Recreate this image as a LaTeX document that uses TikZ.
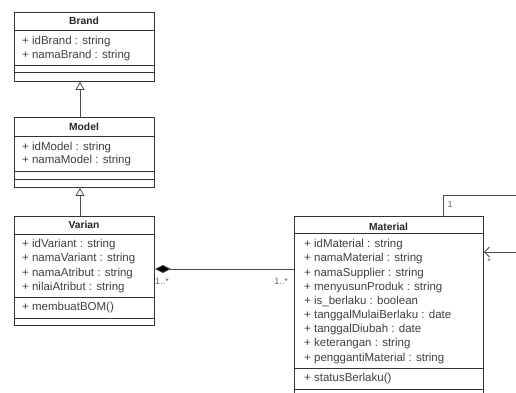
\documentclass[tikz,border=0pt]{standalone}
\usepackage{fontspec}
\setmainfont{Liberation Sans}
\usetikzlibrary{arrows.meta}
\begin{document}
\begin{tikzpicture}[x=1pt,y=-1pt,
 classbox/.style={draw=black!80, line width=0.9pt, anchor=north west, inner sep=0, minimum width=140pt},
 hdr/.style={font=\fontsize{10.3}{12}\selectfont\bfseries, text=black!85, inner sep=0},
 attr/.style={anchor=west, font=\fontsize{11.5}{13}\selectfont, text=black!75, inner sep=0, text height=8pt, text depth=2.5pt},
 sepline/.style={draw=black!80, line width=0.9pt},
 mult/.style={font=\fontsize{9}{10}\selectfont, text=black!60, inner sep=0},
 gen/.style={draw=black!70, line width=0.8pt, -{Triangle[open,length=8pt,width=9pt,fill=white]}},
 comp/.style={draw=black!70, line width=0.8pt, {Diamond[length=16pt,width=8pt,fill=black]}-},
 assoc/.style={draw=black!70, line width=0.8pt, -{Straight Barb[length=5pt,width=10pt]}}
]
\useasboundingbox (0,0) rectangle (516,392);
\clip (0,0) rectangle (516,392);
\fill[white] (0,0) rectangle (516,392);

% Brand
\node[classbox, minimum height=69pt] (brand) at (14,12) {};
\draw[sepline] (14,30.7) -- (154,30.7);
\draw[sepline] (14,65) -- (154,65);
\draw[sepline] (14,72.7) -- (154,72.7);
\node[hdr] (brandT) at (84,21) {Brand};
\node[attr] (b1) at (22,41.7) {+ idBrand : string};
\node[attr] (b2) at (22,55.3) {+ namaBrand : string};

% Model
\node[classbox, minimum height=70pt] (model) at (14,117) {};
\draw[sepline] (14,136) -- (154,136);
\draw[sepline] (14,171) -- (154,171);
\draw[sepline] (14,179) -- (154,179);
\node[hdr] (modelT) at (84,126.5) {Model};
\node[attr] (m1) at (22,147.3) {+ idModel : string};
\node[attr] (m2) at (22,161) {+ namaModel : string};

% Varian
\node[classbox, minimum height=109pt] (varian) at (14,216) {};
\draw[sepline] (14,234) -- (154,234);
\draw[sepline] (14,297) -- (154,297);
\draw[sepline] (14,318) -- (154,318);
\node[hdr] (varianT) at (84,225) {Varian};
\node[attr] (v1) at (22,245) {+ idVariant : string};
\node[attr] (v2) at (22,259.2) {+ namaVariant : string};
\node[attr] (v3) at (22,273.3) {+ namaAtribut : string};
\node[attr] (v4) at (22,287.5) {+ nilaiAtribut : string};
\node[attr] (v5) at (22,308) {+ membuatBOM()};

% Material
\node[classbox, minimum width=189pt, minimum height=190pt] (mat) at (294,216) {};
\draw[sepline] (294,233) -- (483,233);
\draw[sepline] (294,368) -- (483,368);
\draw[sepline] (294,389) -- (483,389);
\node[hdr] (matT) at (388.5,226.5) {Material};
\node[attr] (t1) at (304,245) {+ idMaterial : string};
\node[attr] (t2) at (304,259.2) {+ namaMaterial : string};
\node[attr] (t3) at (304,273.3) {+ namaSupplier : string};
\node[attr] (t4) at (304,287.5) {+ menyusunProduk : string};
\node[attr] (t5) at (304,301.7) {+ is\_berlaku : boolean};
\node[attr] (t6) at (304,315.8) {+ tanggalMulaiBerlaku : date};
\node[attr] (t7) at (304,330) {+ tanggalDiubah : date};
\node[attr] (t8) at (304,344.2) {+ keterangan : string};
\node[attr] (t9) at (304,358.3) {+ penggantiMaterial : string};
\node[attr] (t10) at (304,379) {+ statusBerlaku()};

% generalizations
\coordinate (gx) at (80,0);
\draw[gen] (model.north -| gx) -- (brand.south -| gx);
\draw[gen] (varian.north -| gx) -- (model.south -| gx);

% composition
\coordinate (cy) at (0,269);
\draw[comp] (varian.east |- cy) -- (mat.west |- cy);
\node[mult] (ml1) at (162,281) {1..*};
\node[mult] (ml2) at (281,281) {1..*};

% self association
\coordinate (c1) at (443,195);
\coordinate (c2) at (530,195);
\coordinate (c3) at (530,252);
\draw[assoc] (mat.north -| c1) -- (c1) -- (c2) -- (c3) -- (mat.east |- c3);
\node[mult] (ms1) at (450,204) {1};
\node[mult] (ms2) at (489,261) {*};
\end{tikzpicture}
\end{document}
